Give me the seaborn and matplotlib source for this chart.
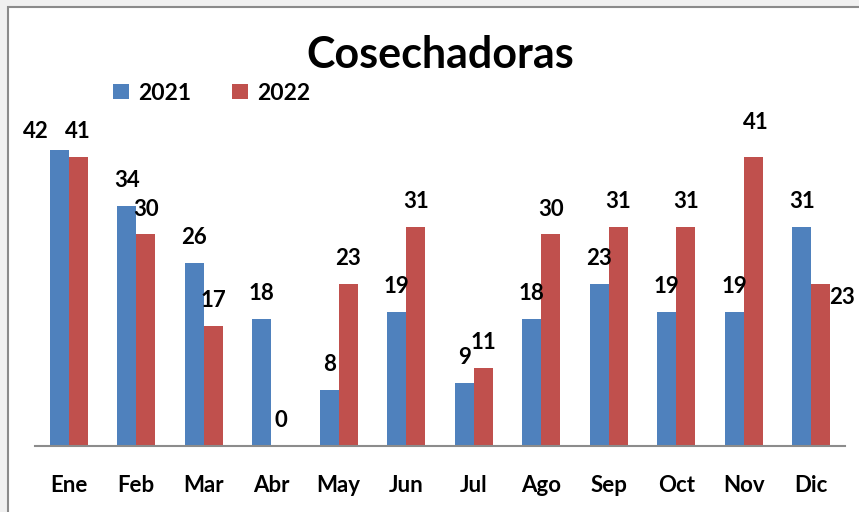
import matplotlib
matplotlib.use("Agg")
import matplotlib.pyplot as plt
from matplotlib.patches import Rectangle, Patch
import seaborn as sns
import pandas as pd

months = ['Ene', 'Feb', 'Mar', 'Abr', 'May', 'Jun', 'Jul', 'Ago', 'Sep', 'Oct', 'Nov', 'Dic']
years = ['2021', '2022']
vals_2021 = [42, 34, 26, 18, 8, 19, 9, 18, 23, 19, 19, 31]
vals_2022 = [41, 30, 17, 0, 23, 31, 11, 30, 31, 31, 41, 23]
colors_list = ['#4F81BD', '#C0504D']

df = pd.DataFrame({
    'mes': months * 2,
    'valor': vals_2021 + vals_2022,
    'anio': [years[0]] * 12 + [years[1]] * 12,
})

sns.set_style(style='white')
plt.rcParams['font.family'] = ['Lato', 'DejaVu Sans']
plt.rcParams['font.weight'] = 'bold'
plt.rcParams['text.color'] = 'black'
plt.rcParams['xtick.color'] = 'black'

fig = plt.figure(figsize=(8.59, 5.12), dpi=100, facecolor='#f0f0f0')
# white chart area with grey frame (image is cropped on right/bottom)
fig.patches.append(Rectangle((8 / 859, -0.1), 1.2, 1 - 7 / 512 + 0.1, transform=fig.transFigure,
                             facecolor='white', edgecolor='#8a8a8a', linewidth=1.5, zorder=-10))

ax = fig.add_axes([35 / 859, 1 - 446 / 512, 810 / 859, 45 * 7.05 / 512])
ax.patch.set_alpha(0)
sns.barplot(x='mes', y='valor', hue='anio', data=df, palette=colors_list, width=0.563, gap=0,
            edgecolor='none', legend=False, ax=ax, saturation=1)
ax.set_ylim(0, 45)
ax.set_xlim(-0.5, 11.5)
ax.set_xlabel('')
ax.set_ylabel('')
ax.set_yticks([])
for s in ['left', 'right', 'top']:
    ax.spines[s].set_visible(False)
ax.spines['bottom'].set_color('#8c8c8c')
ax.spines['bottom'].set_linewidth(1.5)
ax.tick_params(axis='x', length=0, pad=21, labelsize=16)
for t in ax.get_xticklabels():
    t.set_fontweight('bold')

# label nudges in pixels (dx right, dy down)
nudges = {(0, 0): (-23, 7), (1, 10): (3, -9), (1, 11): (21, 39)}
for i, cont in enumerate(ax.containers):
    for j, bar in enumerate(cont):
        dx, dy = nudges.get((i, j), (0, 0))
        h = bar.get_height()
        ax.annotate(f'{int(h)}', (bar.get_x() + bar.get_width() / 2, h),
                    xytext=(dx * 0.72, (19 - dy) * 0.72), textcoords='offset points',
                    ha='center', va='baseline', fontsize=16, fontweight='bold',
                    annotation_clip=False)

fig.text(440 / 859, 1 - 68 / 512, 'Cosechadoras', ha='center', va='baseline',
         fontsize=31, fontweight='bold')

handles = [Patch(facecolor=c, edgecolor='none') for c in colors_list]
fig.legend(handles, years, ncol=2, frameon=False, loc='center left',
           bbox_to_anchor=(113 / 859, 1 - 93 / 512), borderpad=0, borderaxespad=0,
           handlelength=0.68, handleheight=0.68, handletextpad=0.4, columnspacing=1.8,
           prop={'size': 16.5, 'weight': 'bold'})

fig.savefig('out.png', dpi=100, facecolor=fig.get_facecolor())
